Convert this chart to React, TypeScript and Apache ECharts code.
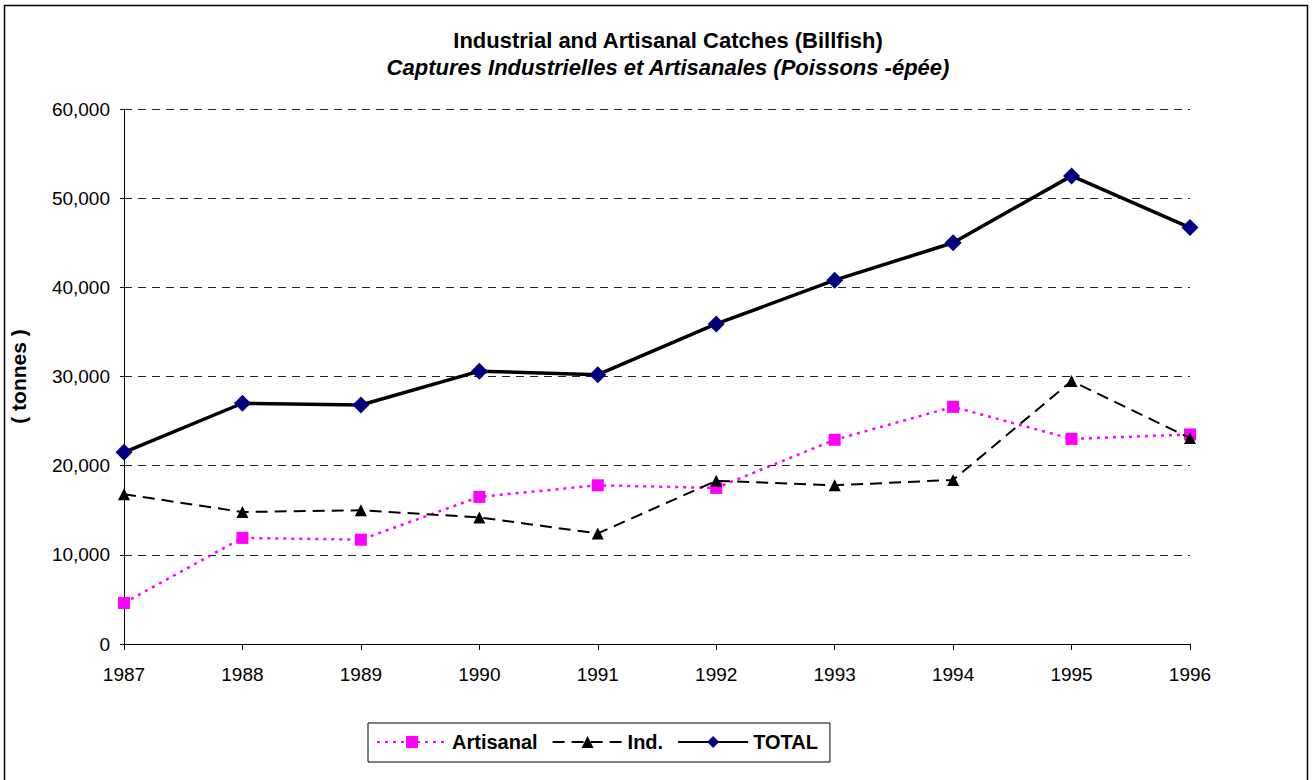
import React, { useEffect, useRef } from "react";
import * as echarts from "echarts";

const years = ["1987", "1988", "1989", "1990", "1991", "1992", "1993", "1994", "1995", "1996"];
const artisanal = [4600, 11900, 11700, 16500, 17800, 17500, 22900, 26600, 23000, 23500];
const industrial = [16800, 14800, 15000, 14200, 12400, 18300, 17800, 18400, 29500, 23100];
const total = [21500, 27000, 26800, 30600, 30200, 35900, 40800, 45000, 52500, 46700];

const FONT = "'Liberation Sans', Arial, sans-serif";

export default function App() {
  const ref = useRef<HTMLDivElement>(null);
  useEffect(() => {
    if (!ref.current) return;
    const chart = echarts.init(ref.current, undefined, { renderer: "svg" });
    chart.setOption({
      animation: false,
      backgroundColor: "#fff",
      textStyle: { fontFamily: FONT },
      title: [
        {
          text: "Industrial and Artisanal Catches (Billfish)",
          left: 663,
          top: 24,
          textAlign: "center",
          textStyle: { fontFamily: FONT, fontSize: 22, fontWeight: "bold", color: "#000" },
        },
        {
          text: "Captures Industrielles et Artisanales (Poissons -épée)",
          left: 663,
          top: 51,
          textAlign: "center",
          textStyle: { fontFamily: FONT, fontSize: 22, fontWeight: "bold", fontStyle: "italic", color: "#000" },
        },
      ],
      graphic: [
        {
          type: "rect",
          shape: { x: 4.5, y: 5.5, width: 1303, height: 780 },
          style: { fill: "none", stroke: "#000", lineWidth: 1.5 },
          silent: true,
        },
      ],
      legend: {
        left: 368,
        top: 723,
        width: 470,
        padding: [9, 12, 10, 8],
        borderColor: "#000",
        borderWidth: 1,
        itemGap: 14,
        itemWidth: 70,
        itemHeight: 15,
        textStyle: { fontFamily: FONT, fontSize: 20, fontWeight: "bold", color: "#000" },
        data: ["Artisanal", "Ind.", "TOTAL"],
      },
      grid: { left: 120, right: 123, top: 109, bottom: 136, containLabel: false },
      xAxis: {
        type: "category",
        data: years,
        boundaryGap: false,
        axisLine: { lineStyle: { color: "#000", width: 1 } },
        axisTick: { show: true, inside: false, length: 6, lineStyle: { color: "#000" } },
        axisLabel: { color: "#000", fontSize: 19, margin: 21, fontFamily: FONT },
        splitLine: { show: false },
      },
      yAxis: {
        type: "value",
        min: 0,
        max: 60000,
        interval: 10000,
        name: "( tonnes )",
        nameLocation: "middle",
        nameRotate: 90,
        nameGap: 95,
        nameTextStyle: { fontFamily: FONT, fontSize: 21, fontWeight: "bold", color: "#000" },
        axisLine: { show: true, lineStyle: { color: "#000", width: 1 } },
        axisTick: { show: true, length: 4, lineStyle: { color: "#000" } },
        axisLabel: {
          color: "#000",
          fontSize: 19,
          margin: 14,
          fontFamily: FONT,
          formatter: (v: number) => v.toLocaleString("en-US"),
        },
        splitLine: { show: true, lineStyle: { color: "#222", type: [8, 6], width: 1 } },
      },
      series: [
        {
          name: "Artisanal",
          type: "line",
          data: artisanal,
          symbol: "rect",
          symbolSize: 12,
          itemStyle: { color: "#ff00ff" },
          lineStyle: { color: "#ff00ff", width: 2.5, type: [3, 5] },
          z: 3,
        },
        {
          name: "Ind.",
          type: "line",
          data: industrial,
          symbol: "triangle",
          symbolSize: 12,
          itemStyle: { color: "#000" },
          lineStyle: { color: "#000", width: 2, type: [12, 7] },
          z: 4,
        },
        {
          name: "TOTAL",
          type: "line",
          data: total,
          symbol: "diamond",
          symbolSize: 17,
          itemStyle: { color: "#000080" },
          lineStyle: { color: "#000", width: 3.5 },
          z: 5,
        },
      ],
    });
    return () => chart.dispose();
  }, []);
  return <div ref={ref} style={{ position: "fixed", left: 0, top: 0, width: 1313, height: 780 }} />;
}
